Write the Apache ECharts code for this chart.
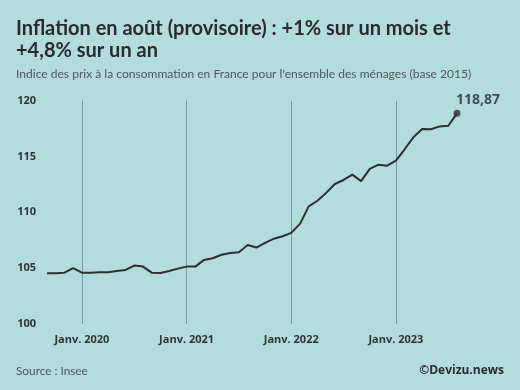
<!DOCTYPE html>
<html>
<head>
<meta charset="utf-8">
<script src="https://cdn.jsdelivr.net/npm/echarts@6/dist/echarts.min.js"></script>
<style>
html,body{margin:0;padding:0;background:#b3dcdd;}
#c{width:520px;height:390px;}
</style>
</head>
<body>
<div id="c"></div>
<script>
// Months Sep 2019 – Aug 2023
const months = [
  '2019-09','2019-10','2019-11','2019-12',
  '2020-01','2020-02','2020-03','2020-04','2020-05','2020-06','2020-07','2020-08','2020-09','2020-10','2020-11','2020-12',
  '2021-01','2021-02','2021-03','2021-04','2021-05','2021-06','2021-07','2021-08','2021-09','2021-10','2021-11','2021-12',
  '2022-01','2022-02','2022-03','2022-04','2022-05','2022-06','2022-07','2022-08','2022-09','2022-10','2022-11','2022-12',
  '2023-01','2023-02','2023-03','2023-04','2023-05','2023-06','2023-07','2023-08'
];
const cpi = [
  104.55,104.55,104.6,105.0,
  104.6,104.6,104.63,104.63,104.75,104.84,105.23,105.14,104.6,104.57,104.75,104.96,
  105.14,105.14,105.74,105.89,106.2,106.35,106.43,107.08,106.85,107.26,107.64,107.86,
  108.16,108.97,110.54,111.04,111.74,112.54,112.9,113.38,112.8,113.89,114.27,114.18,
  114.63,115.65,116.72,117.47,117.44,117.7,117.76,118.87
];
const yTicks = [100,105,110,115,120];
const janLabels = {'2020-01':'Janv. 2020','2021-01':'Janv. 2021','2022-01':'Janv. 2022','2023-01':'Janv. 2023'};
const lastLabel = '118,87';

const FONT = 'Lato, "Open Sans", sans-serif';
const AX = '"Open Sans", "Noto Sans", sans-serif';
const chart = echarts.init(document.getElementById('c'));
const lastIdx = cpi.length - 1;
chart.setOption({
  backgroundColor: '#b3dcdd',
  animation: false,
  textStyle: {fontFamily: FONT},
  title: [
    {text: 'Inflation en août (provisoire) : +1% sur un mois et\n+4,8% sur un an', left: 11, top: 13,
     textStyle: {fontSize: 20, fontWeight: 'bold', color: '#2b2b2b', lineHeight: 21.5, fontFamily: FONT}},
    {text: "Indice des prix à la consommation en France pour l'ensemble des ménages (base 2015)", left: 11, top: 63,
     textStyle: {fontSize: 12.05, fontWeight: 'normal', color: '#555', fontFamily: FONT}},
    {text: 'Source : Insee', left: 11, top: 360,
     textStyle: {fontSize: 11.8, fontWeight: 'normal', color: '#555', fontFamily: FONT}},
    {text: '©Devizu.news', right: 11, top: 360,
     textStyle: {fontSize: 12, fontWeight: 'bold', color: '#2b2b2b', fontFamily: AX}}
  ],
  grid: {left: 47, right: 63, top: 100.7, bottom: 66, containLabel: false},
  xAxis: {
    type: 'category', data: months, boundaryGap: false,
    axisLine: {show: false}, axisTick: {show: false},
    axisLabel: {
      interval: (i, v) => !!janLabels[v],
      formatter: v => janLabels[v] || '',
      color: '#333', fontWeight: 'bold', fontSize: 11, margin: 10, fontFamily: AX
    },
    splitLine: {show: true, interval: (i, v) => !!janLabels[v], lineStyle: {color: '#7d9b9c', width: 1}}
  },
  yAxis: {
    type: 'value', min: 100, max: 120, interval: 5,
    axisLine: {show: false}, axisTick: {show: false},
    splitLine: {show: false},
    axisLabel: {color: '#333', fontWeight: 'bold', fontSize: 11, margin: 11, fontFamily: AX,
      formatter: v => yTicks.includes(v) ? String(v) : ''}
  },
  series: [{
    type: 'line', data: cpi,
    symbol: 'none',
    lineStyle: {color: '#2f2f2f', width: 2},
    itemStyle: {color: '#2f2f2f'}
  }, {
    type: 'scatter', data: [[months[lastIdx], cpi[lastIdx]]],
    symbol: 'circle', symbolSize: 7,
    itemStyle: {color: '#2f2f2f'},
    label: {show: true, position: 'top', align: 'left', distance: 3, offset: [-1, 0], formatter: lastLabel,
      fontSize: 14, fontWeight: 'bold', color: '#2b2b2b', fontFamily: AX}
  }]
});
</script>
</body>
</html>
